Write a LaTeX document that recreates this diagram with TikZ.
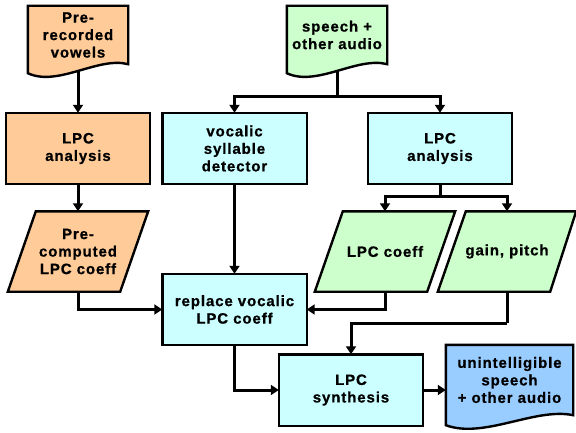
\documentclass[tikz,border=0pt]{standalone}
\usepackage{fontspec}
\setmainfont{Liberation Sans}[LetterSpace=6, BoldFeatures={FakeBold=0.8}]
\usetikzlibrary{arrows.meta,backgrounds,calc}
\definecolor{orangeF}{HTML}{FFCC99}
\definecolor{greenF}{HTML}{CCFFCC}
\definecolor{cyanF}{HTML}{CCFFFF}
\definecolor{blueF}{HTML}{99CCFF}
\begin{document}
\begin{tikzpicture}[x=1pt,y=-1pt,
  every node/.style={font=\bfseries\fontsize{15}{17.5}\selectfont, align=center, inner sep=0pt},
  box/.style={minimum width=144pt, minimum height=71pt},
  para/.style={minimum width=140pt, minimum height=80pt},
  doc/.style={minimum width=100pt, minimum height=58pt},
  conn/.style={line width=3pt, -{Triangle[length=8pt,width=10pt]}},
  plainline/.style={line width=3pt},
  edge/.style={line width=2.4pt, draw=black, line join=miter}]
\useasboundingbox (0,0) rectangle (576,433);

% nodes (text)
\node[doc] (pre) at (78,35) {Pre-\\recorded\\vowels};
\node[doc] (speech) at (337,35) {speech +\\other audio};
\node[box] (lpcL) at (78,148.5) {LPC\\analysis};
\node[box] (voc) at (234.5,148.5) {vocalic\\syllable\\detector};
\node[box] (lpcR) at (440,148.5) {LPC\\analysis};
\node[para] (precomp) at (78,251.5) {Pre-\\computed\\LPC coeff};
\node[para] (coeff) at (385,251.5) {LPC coeff};
\node[para, minimum width=138pt] (gain) at (507,251.5) {gain, pitch};
\node[box] (repl) at (234.5,309.5) {replace vocalic\\LPC coeff};
\node[box] (synth) at (351,390) {LPC\\synthesis};
\node[minimum width=127pt, minimum height=70pt] (out) at (509.5,380) {unintelligible\\speech\\+ other audio};

\coordinate (jS) at (337,97);
\coordinate (jA) at (440,197);
\coordinate (jG) at (507,323);

\begin{scope}[on background layer]
  % connectors
  \draw[conn] (pre.south) -- (lpcL.north);
  \draw[conn] (lpcL.south) -- (precomp.north);
  \draw[conn] (precomp.south) |- (repl.west);
  \draw[plainline] (speech.south) -- (jS);
  \draw[conn] (jS) -| (voc.north);
  \draw[conn] (jS) -| (lpcR.north);
  \draw[conn] (voc.south) -- (repl.north);
  \draw[plainline] (lpcR.south) -- (jA);
  \draw[conn] (jA) -| (coeff.north);
  \draw[conn] (jA) -| (gain.north);
  \draw[conn] (coeff.south) |- (repl.east);
  \draw[plainline] (gain.south) -- (jG);
  \draw[conn] (jG) -| (synth.north);
  \draw[conn] (repl.south) |- (synth.west);
  \draw[conn] (synth.east) -- (synth.east -| out.west);

  % shapes
  \draw[edge, fill=orangeF] (pre.north west) -- (pre.north east) -- (pre.south east)
     .. controls +(-30,-8) and +(30,14) .. ($(pre.south west)+(0,9)$) -- cycle;
  \draw[edge, fill=greenF] (speech.north west) -- (speech.north east) -- (speech.south east)
     .. controls +(-30,-8) and +(30,14) .. ($(speech.south west)+(0,9)$) -- cycle;
  \draw[edge, fill=blueF] (out.north west) -- (out.north east) -- (out.south east)
     .. controls +(-38,-8) and +(38,14) .. ($(out.south west)+(0,10)$) -- cycle;
  \draw[edge, fill=orangeF] (lpcL.north west) rectangle (lpcL.south east);
  \draw[edge, fill=cyanF] (voc.north west) rectangle (voc.south east);
  \draw[edge, fill=cyanF] (lpcR.north west) rectangle (lpcR.south east);
  \draw[edge, fill=cyanF] (repl.north west) rectangle (repl.south east);
  \draw[edge, fill=cyanF] (synth.north west) rectangle (synth.south east);
  \draw[edge, fill=orangeF] (precomp.south west) -- ($(precomp.south east)+(-28,0)$)
     -- (precomp.north east) -- ($(precomp.north west)+(28,0)$) -- cycle;
  \draw[edge, fill=greenF] (coeff.south west) -- ($(coeff.south east)+(-28,0)$)
     -- (coeff.north east) -- ($(coeff.north west)+(28,0)$) -- cycle;
  \draw[edge, fill=greenF] (gain.south west) -- ($(gain.south east)+(-26,0)$)
     -- (gain.north east) -- ($(gain.north west)+(28,0)$) -- cycle;
\end{scope}
\end{tikzpicture}
\end{document}
